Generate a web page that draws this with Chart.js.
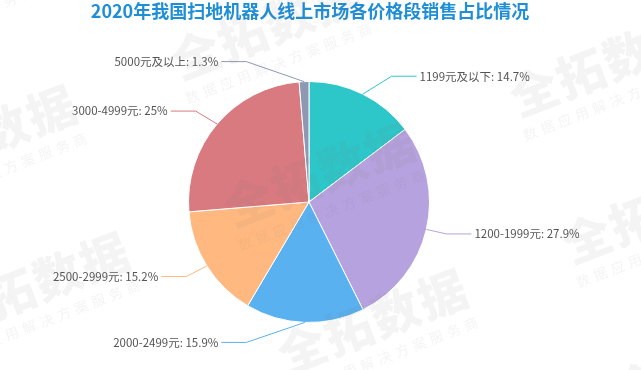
<!DOCTYPE html>
<html lang="zh">

<head>
    <meta charset="UTF-8">
    <title>扫地机器人价格段占比</title>
    <script src="https://cdn.jsdelivr.net/npm/chart.js"></script>
    <style>
        body { margin: 0; background: #fff; }
    </style>
</head>

<body>
    <canvas id="myChart" width="641" height="370"></canvas>
</body>
<script>

    // data
    const categories = ['1199元及以下', '1200-1999元', '2000-2499元', '2500-2999元', '3000-4999元', '5000元及以上'];
    const shares = [14.7, 27.9, 15.9, 15.2, 25, 1.3];
    const colors = ['#2ec7c9', '#b6a2de', '#5ab1ef', '#ffb980', '#d87a80', '#8d98b3'];
    const titleText = '2020年我国扫地机器人线上市场各价格段销售占比情况';

    const FONT = '"Noto Sans CJK SC", "Noto Sans", sans-serif';

    // watermark tiles over the whole picture
    const watermark = {
        id: 'watermark',
        afterDraw(chart) {
            const c = chart.ctx;
            const A = [285, -110], B = [-338, -37];
            c.save();
            c.fillStyle = 'rgba(110,110,110,0.08)';
            c.textAlign = 'center';
            c.textBaseline = 'middle';
            for (let i = -3; i <= 3; i++) {
                for (let j = -3; j <= 3; j++) {
                    const x = 320 + i * A[0] + j * B[0];
                    const y = 174 + i * A[1] + j * B[1];
                    if (x < -250 || x > 900 || y < -100 || y > 480) continue;
                    c.save();
                    c.translate(x, y);
                    c.rotate(-21 * Math.PI / 180);
                    c.font = `900 48px ${FONT}`;
                    c.letterSpacing = '2px';
                    c.fillText('全拓数据', 0, 0);
                    c.font = `14px ${FONT}`;
                    c.letterSpacing = '4.5px';
                    c.fillText('数据应用解决方案服务商', 0, 38);
                    c.restore();
                }
            }
            c.restore();
        }
    };

    // echarts-like outside labels with leader lines + title
    const pieLabels = {
        id: 'pieLabels',
        afterDatasetsDraw(chart) {
            const c = chart.ctx;
            const meta = chart.getDatasetMeta(0);
            const L1 = 20, L2 = 25;
            c.save();
            meta.data.forEach((arc, i) => {
                const p = arc.getProps(['x', 'y', 'startAngle', 'endAngle', 'outerRadius'], true);
                const mid = (p.startAngle + p.endAngle) / 2;
                const cos = Math.cos(mid), sin = Math.sin(mid);
                const r = p.outerRadius;
                const x0 = p.x + r * cos, y0 = p.y + r * sin;
                const x1 = p.x + (r + L1) * cos, y1 = p.y + (r + L1) * sin;
                const dir = cos >= 0 ? 1 : -1;
                const dy = Math.abs(y1 - p.y);
                const R = r + L1 + L2;
                const dx = dy < r + L1 ? Math.sqrt(R * R - dy * dy) : Math.abs(x1 - p.x);
                const xEnd = p.x + dir * dx;
                const xMid = xEnd - dir * L2;

                c.strokeStyle = colors[i];
                c.lineWidth = 1;
                c.beginPath();
                c.moveTo(x0, y0);
                c.lineTo(xMid, y1);
                c.lineTo(xEnd, y1);
                c.stroke();

                c.fillStyle = '#555';
                c.font = `11.5px ${FONT}`;
                c.textBaseline = 'middle';
                c.textAlign = dir > 0 ? 'left' : 'right';
                c.fillText(`${categories[i]}: ${shares[i]}%`, xEnd + dir * 3, y1);
            });

            c.fillStyle = '#1e8fd6';
            c.font = `bold 18px ${FONT}`;
            c.textAlign = 'center';
            c.textBaseline = 'middle';
            c.fillText(titleText, 310, 11);
            c.restore();
        }
    };

    new Chart(document.getElementById('myChart'), {
        type: 'pie',
        data: {
            labels: categories,
            datasets: [{
                data: shares,
                backgroundColor: colors,
                borderColor: '#fff',
                borderWidth: 1
            }]
        },
        options: {
            responsive: false,
            animation: false,
            layout: {
                padding: { top: 81, bottom: 47, left: 188, right: 211 }
            },
            plugins: {
                legend: { display: false },
                tooltip: { enabled: false }
            }
        },
        plugins: [pieLabels, watermark]
    });

</script>

</html>
